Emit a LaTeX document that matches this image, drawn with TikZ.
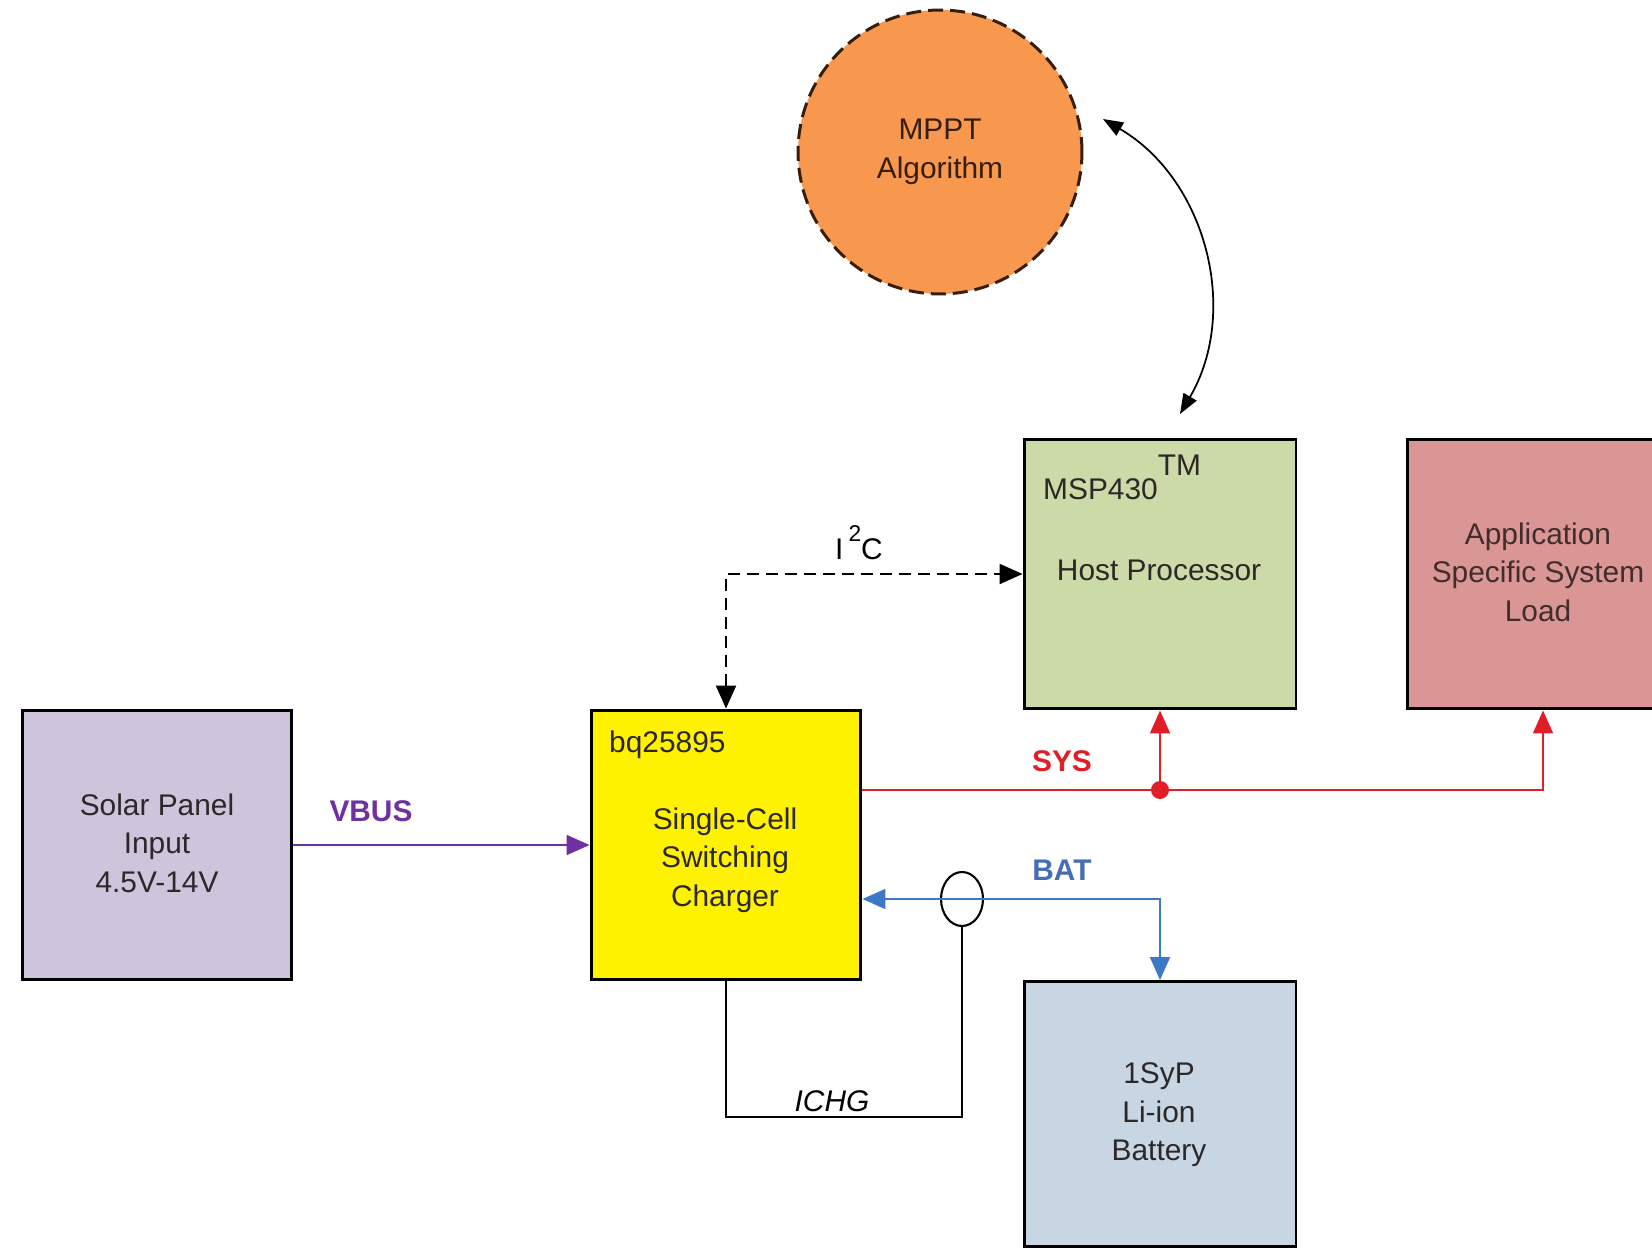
\documentclass[tikz,border=0pt]{standalone}
\usepackage{fontspec}
\setmainfont{Liberation Sans}
\usetikzlibrary{arrows.meta,shapes.geometric}
\definecolor{mpptorange}{RGB}{247,152,78}
\definecolor{mpptedge}{RGB}{55,30,12}
\definecolor{mspgreen}{RGB}{204,218,168}
\definecolor{apppink}{RGB}{217,150,148}
\definecolor{solarlilac}{RGB}{206,197,220}
\definecolor{battblue}{RGB}{200,214,228}
\definecolor{sysred}{RGB}{225,30,40}
\definecolor{batblue}{RGB}{60,120,200}
\definecolor{batlabel}{RGB}{70,110,180}
\definecolor{vbuspurple}{RGB}{112,48,160}
\definecolor{inktext}{RGB}{45,40,40}

\begin{document}
\begin{tikzpicture}[x=0.02cm, y=-0.02cm,
	block/.style={draw=black, line width=1.7pt, minimum width=5.4cm, minimum height=5.4cm, inner sep=0pt},
	blocktext/.style={align=center, text=inktext, font=\fontsize{17}{22}\selectfont},
	sig/.style={font=\fontsize{17}{22}\selectfont\bfseries},
	wire/.style={line width=1.2pt}]
	
	\useasboundingbox (0,0) rectangle (1652,1250);
	\clip (0,0) rectangle (1652,1250);
	
	\node [circle, draw=mpptedge, line width=1.7pt, dash pattern=on 0.3cm off 0.14cm, fill=mpptorange, minimum size=5.68cm, blocktext, text=mpptedge] (mppt) at (940,152) {MPPT\\Algorithm};
	
	\node [block, fill=solarlilac] (solar) at (157,845) {};
	\node [block, fill=yellow] (chg) at (726,845) {};
	\node [block, fill=mspgreen, minimum width=5.44cm] (msp) at (1160,574) {};
	\node [block, fill=apppink, minimum width=5.44cm] (app) at (1543,574) {};
	\node [block, fill=battblue, minimum width=5.44cm, minimum height=5.3cm] (batt) at (1160,1114) {};
	
	\node [blocktext] (solartxt) at (157,843) {Solar Panel\\Input\\4.5V-14V};
	\node [blocktext, anchor=west] (chgname) at (603,745) {bq25895};
	\node [blocktext] (chgtxt) at (725,860) {Single-Cell\\Switching\\Charger};
	\node [blocktext, anchor=base west] (mspname) at (1037,499) {MSP430\raisebox{0.8em}{TM}};
	\node [blocktext] (msptxt) at (1159,570) {Host Processor};
	\node [blocktext, text=apppink!30!black] (apptxt) at (1538,572) {Application\\Specific System\\Load};
	\node [blocktext] (batttxt) at (1159,1115) {1SyP\\Li-ion\\Battery};
	
	\node [fill=sysred, circle, inner sep=0pt, minimum size=0.36cm] (sysdot) at (1160,790) {};
	\coordinate (batj) at (1160,899);
	\node [ellipse, draw=black, line width=1.2pt, minimum width=0.84cm, minimum height=1.08cm, inner sep=0pt] (sense) at (962,899) {};
	\coordinate (loopbase) at (962,1117);
	\coordinate (mpptend) at (1103,119);
	\coordinate (mspend) at (1180,414);
	
	\draw [wire, color=vbuspurple, -{Triangle[length=0.46cm,width=0.4cm]}] (solar.east) -- (chg.west);
	\draw [wire, dash pattern=on 0.24cm off 0.14cm, {Triangle[length=0.46cm,width=0.4cm]}-{Triangle[length=0.46cm,width=0.4cm]}] (chg.north) |- (msp.west);
	\draw [wire, color=sysred, -{Triangle[length=0.46cm,width=0.4cm]}] (chg.east |- sysdot) -| (app.south);
	\draw [wire, color=sysred, -{Triangle[length=0.46cm,width=0.4cm]}] (sysdot) -- (msp.south);
	\draw [wire, color=batblue, {Triangle[length=0.46cm,width=0.4cm]}-{Triangle[length=0.46cm,width=0.4cm]}] (chg.east |- batj) -| (batt.north);
	\draw [wire] (chg.south) |- (loopbase) -- (sense.south);
	\draw [line width=1pt, {Triangle[length=0.4cm,width=0.3cm]}-{Triangle[length=0.4cm,width=0.3cm]}] (mpptend) to[bend left=45] (mspend);
	
	\node [sig, text=vbuspurple] (vbuslbl) at (371,811) {VBUS};
	\node [sig, text=sysred] (syslbl) at (1062,761) {SYS};
	\node [sig, text=batlabel] (batlbl) at (1062,870) {BAT};
	\node [font=\fontsize{17}{22}\selectfont] (i2clbl) at (859,543) {I\,\raisebox{0.6em}{\fontsize{13}{13}\selectfont 2}C};
	\node [font=\fontsize{17}{22}\selectfont\itshape] (ichglbl) at (832,1101) {ICHG};
\end{tikzpicture}
\end{document}
